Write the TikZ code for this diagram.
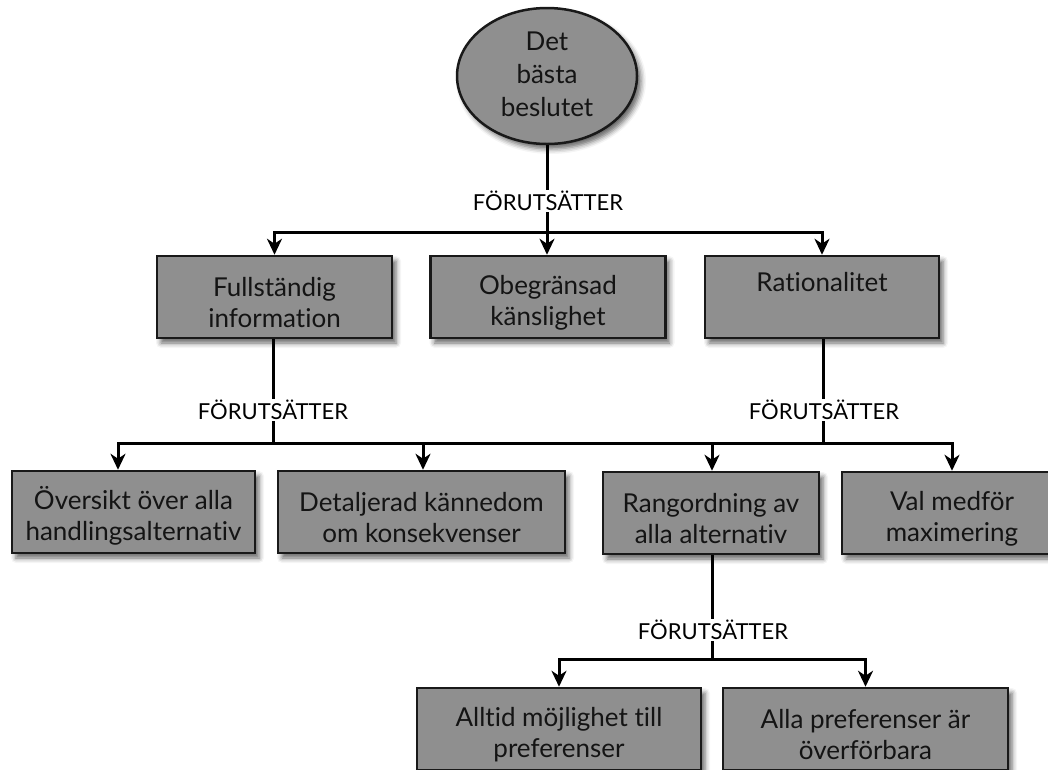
\documentclass[tikz,border=0pt]{standalone}
\usepackage{fontspec}
\setmainfont{Lato}[Ligatures={NoCommon}]
\usetikzlibrary{arrows.meta,shapes.geometric,shadows.blur}
\definecolor{boxgray}{RGB}{143,143,143}
\definecolor{edgedark}{RGB}{25,25,25}
\newcommand{\toprule}{\rule{0pt}{30pt}}
\newcommand{\ovaltop}{\rule{0pt}{20pt}}
\newcommand{\ovalbot}{\rule[-6pt]{0pt}{6pt}}
\begin{document}
\begin{tikzpicture}[x=1pt,y=-1pt,
  boxstyle/.style={draw=edgedark,line width=2.5pt,fill=boxgray,rectangle,
    minimum height=82pt,align=center,text={rgb,255:red,20;green,20;blue,20},
    font=\fontsize{26}{31}\selectfont,inner sep=0pt,
    blur shadow={shadow xshift=4pt,shadow yshift=-5pt,shadow blur radius=5pt,shadow opacity=60}},
  ovalstyle/.style={boxstyle,ellipse,minimum width=180pt,minimum height=136pt,
    font=\fontsize{26}{33}\selectfont},
  condlabel/.style={fill=white,inner sep=1.5pt,font=\fontsize{22}{22}\selectfont,text=black},
  conn/.style={line width=3pt,draw=black},
  arr/.style={conn,-{Stealth[length=16pt,width=15pt,inset=5pt]}}
]
\useasboundingbox (0,0) rectangle (1048,769);

% nodes
\node[ovalstyle] (top) at (547,76) {\ovaltop Det\\bästa\\beslutet\ovalbot};

\node[boxstyle,minimum width=235pt] (full) at (274.5,297) {\toprule Fullständig\\information};
\node[boxstyle,minimum width=235pt] (obe) at (548,297) {\toprule Obegränsad\\känslighet};
\node[boxstyle,minimum width=234pt] (rat) at (822,297) {\toprule Rationalitet\\\strut};

\node[boxstyle,minimum width=243pt] (over) at (133.5,512) {\toprule Översikt över alla\\handlingsalternativ};
\node[boxstyle,minimum width=287pt] (det) at (421.5,512) {\toprule Detaljerad kännedom\\om konsekvenser};
\node[boxstyle,minimum width=216pt] (rang) at (711,513) {\toprule Rangordning av\\alla alternativ};
\node[boxstyle,minimum width=220pt] (val) at (952,513) {\toprule Val medför\\maximering};

\node[boxstyle,minimum width=284pt] (allt) at (559,729) {\toprule Alltid möjlighet till\\preferenser};
\node[boxstyle,minimum width=285pt] (alla) at (865.5,729) {\toprule Alla preferenser är\\överförbara};

% junctions
\coordinate (j1) at (547,232);
\coordinate (j2) at (273,443);
\coordinate (j3) at (823,443);
\coordinate (j4) at (712,659);

% level 1
\draw[conn] (top.south) -- (j1);
\draw[arr] (j1) -| (full.north);
\draw[arr] (j1) -- (j1 |- obe.north);
\draw[arr] (j1) -| (rat.north);
\node[condlabel] (l1) at (548,201) {FÖRUTSÄTTER};

% level 2
\draw[conn] (full.south -| j2) -- (j2);
\draw[conn] (rat.south -| j3) -- (j3);
\draw[conn] (j2) -- (j3);
\draw[arr] (j2) -| ([xshift=-15.5pt]over.north);
\draw[arr] (j2) -| ([xshift=1.5pt]det.north);
\draw[arr] (j3) -| ([xshift=1pt]rang.north);
\draw[arr] (j3) -| (val.north);
\node[condlabel] (l2) at (273,410) {FÖRUTSÄTTER};
\node[condlabel] (l3) at (824,410) {FÖRUTSÄTTER};

% level 3
\draw[conn] (rang.south -| j4) -- (j4);
\draw[arr] (j4) -| (allt.north);
\draw[arr] (j4) -| (alla.north);
\node[condlabel] (l4) at (713,630) {FÖRUTSÄTTER};
\end{tikzpicture}
\end{document}
